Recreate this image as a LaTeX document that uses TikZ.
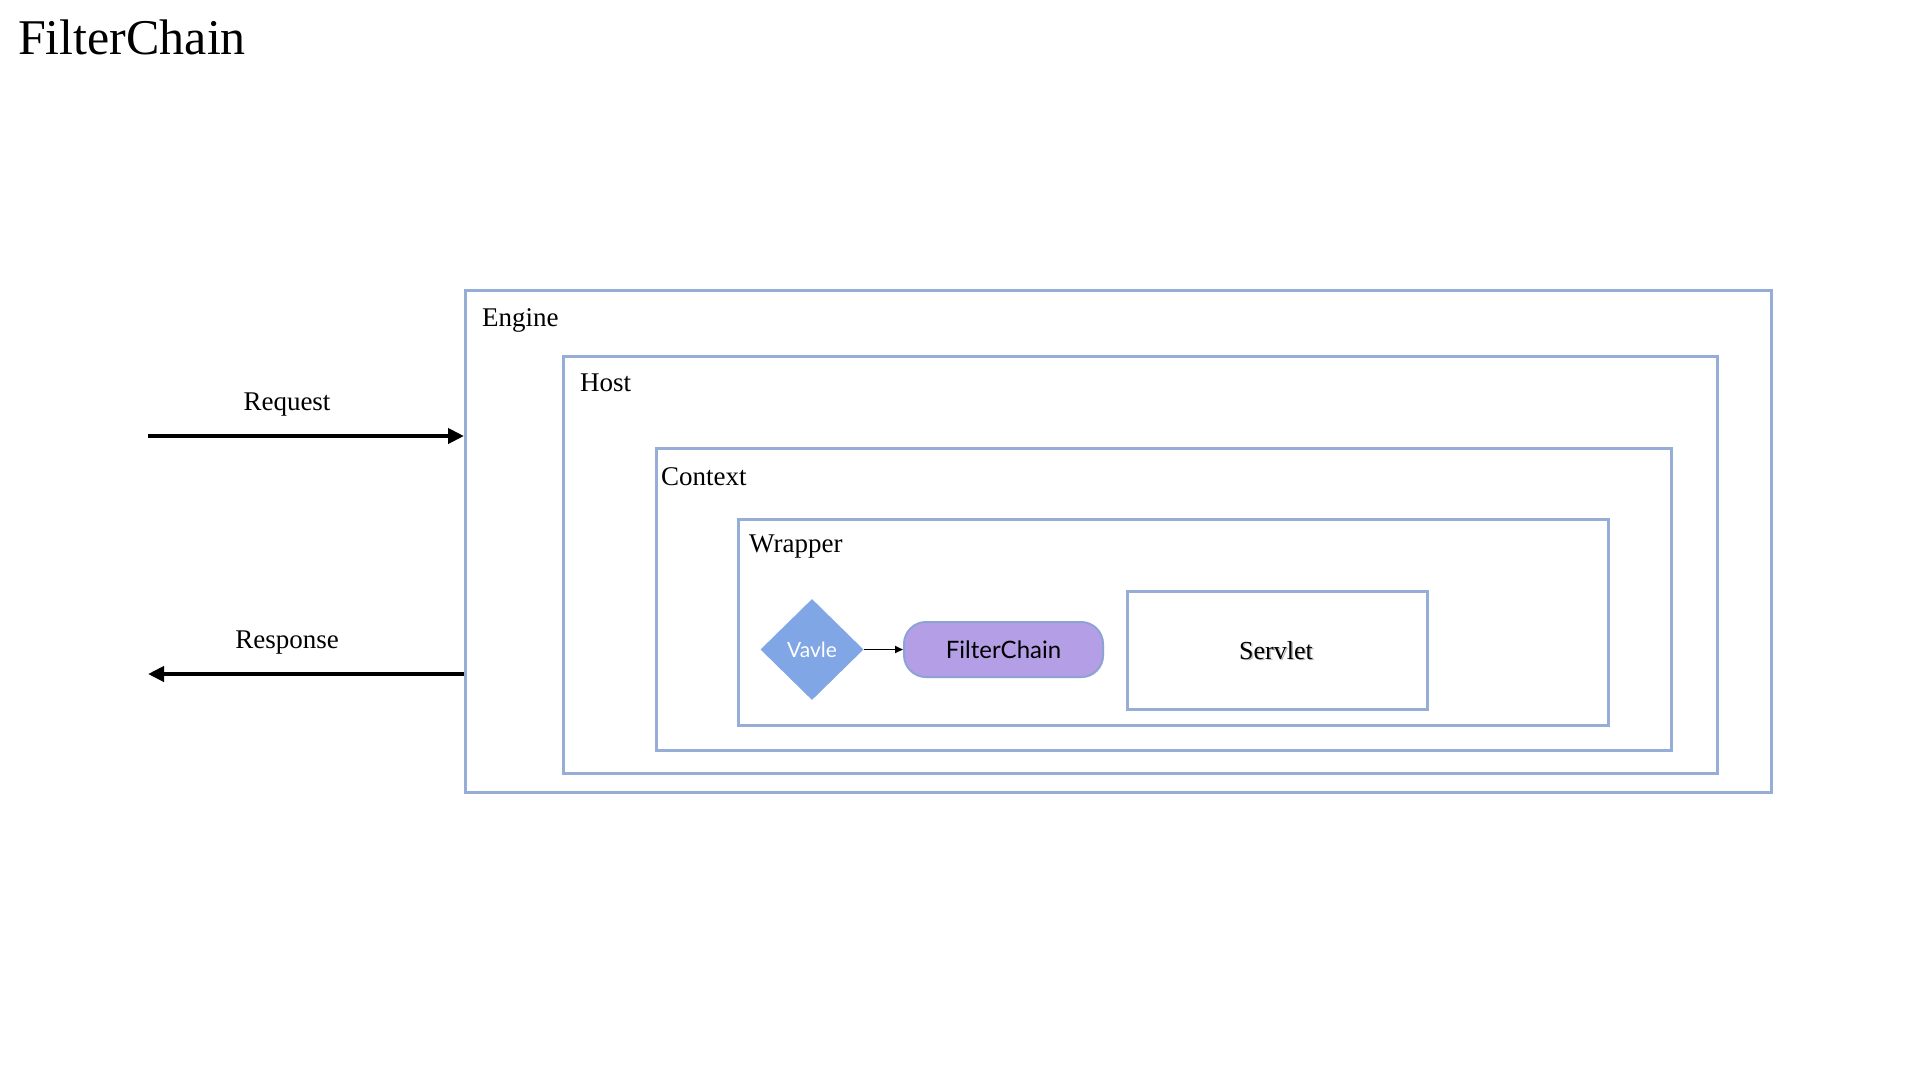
\documentclass[tikz,border=0pt]{standalone}
\usepackage{fontspec}
\setmainfont{Liberation Serif}
\newfontfamily\latofont{Lato}
\usetikzlibrary{arrows.meta,shapes.geometric,shadows}
\definecolor{boxblue}{RGB}{150,173,216}
\definecolor{diafill}{RGB}{128,166,229}
\definecolor{pillfill}{RGB}{180,159,230}
\definecolor{pillline}{RGB}{142,163,213}
\tikzset{
  x=1pt,y=-1pt,
  cbox/.style={draw=boxblue,line width=2.7pt,fill=white,anchor=north west,inner sep=0pt,
    drop shadow={shadow xshift=1.2pt,shadow yshift=-1.2pt,opacity=0.3,fill=gray}},
  lbl/.style={anchor=base west,inner sep=0pt,font=\fontsize{27}{32}\selectfont},
  flowlbl/.style={anchor=base,inner sep=0pt,font=\fontsize{27}{32}\selectfont},
  bigarrow/.style={line width=4.5pt,-{Triangle[length=16pt,width=15pt]}},
  smallarrow/.style={line width=1.8pt,-{Triangle[length=8pt,width=7pt]}}
}
\begin{document}
\begin{tikzpicture}
\useasboundingbox (0,0) rectangle (1920,1080);
\fill[white] (0,0) rectangle (1920,1080);

\node[anchor=base west,inner sep=0pt,font=\fontsize{50}{60}\selectfont] (title) at (18,54) {FilterChain};

\node[cbox,minimum width=1306pt,minimum height=502pt] (engine) at (464,289) {};
\node[cbox,minimum width=1154pt,minimum height=417pt] (host) at (562,355) {};
\node[cbox,minimum width=1015pt,minimum height=302pt] (context) at (655,447) {};
\node[cbox,minimum width=870pt,minimum height=206pt] (wrapper) at (737,518) {};
\node[cbox,minimum width=300pt,minimum height=118pt] (servlet) at (1126,590) {};

\node[lbl] (enginelbl) at (482,326) {Engine};
\node[lbl] (hostlbl) at (580,391) {Host};
\node[lbl] (contextlbl) at (661,485) {Context};
\node[lbl] (wrapperlbl) at (749,552) {Wrapper};

\node[anchor=base,inner sep=0pt,font=\fontsize{26}{30}\selectfont,text=gray,opacity=0.55] (servshadow) at (1277.5,660.5) {Servlet};
\node[anchor=base,inner sep=0pt,font=\fontsize{26}{30}\selectfont] (servletlbl) at (1276,659) {Servlet};

\node[diamond,fill=diafill,minimum width=103pt,minimum height=101pt,inner sep=0pt,
  font=\latofont\fontsize{21}{24}\selectfont,text=white] (valve) at (812,649.5) {Vavle};
\node[rounded corners=22pt,fill=pillfill,draw=pillline,line width=2pt,minimum width=199pt,minimum height=55pt,
  inner sep=0pt,font=\latofont\fontsize{24}{28}\selectfont,
  drop shadow={shadow xshift=1pt,shadow yshift=-1pt,opacity=0.3,fill=gray}] (chain) at (1003.5,649.5) {FilterChain};
\draw[smallarrow] (valve.east) -- (chain.west);

\coordinate (reqstart) at (148,436);
\coordinate (respend) at (148,674);
\draw[bigarrow] (reqstart) -- (reqstart -| engine.west);
\draw[bigarrow] (respend -| engine.west) -- (respend);
\node[flowlbl] (reqlbl) at (287,410) {Request};
\node[flowlbl] (resplbl) at (287,648) {Response};
\end{tikzpicture}
\end{document}
